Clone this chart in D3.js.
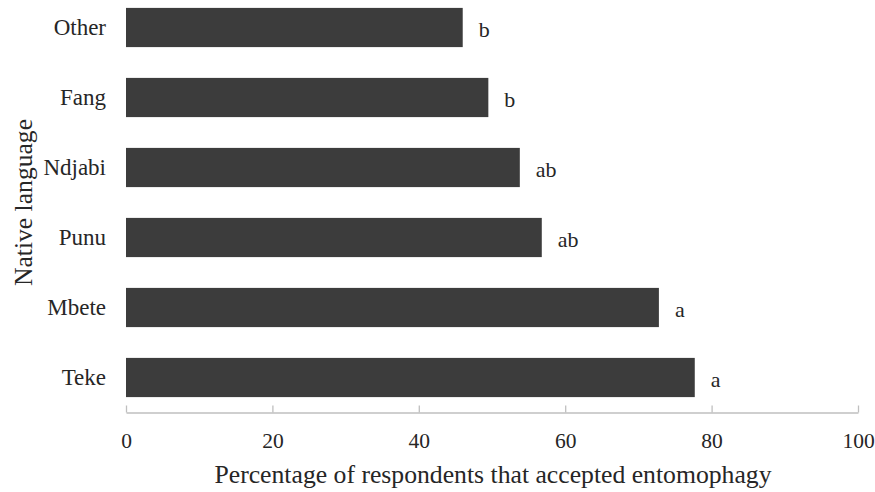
<!DOCTYPE html>
<html>
<head>
<meta charset="utf-8">
<script src="https://cdn.jsdelivr.net/npm/d3@7"></script>
<style>
  html, body { margin: 0; padding: 0; background: #fff; }
  svg { display: block; }
</style>
</head>
<body>
<svg id="chart" width="875" height="492"></svg>
<script>
// Acceptance of entomophagy by native language
const languages = ["Other", "Fang", "Ndjabi", "Punu", "Mbete", "Teke"];
const acceptance = [46.0, 49.5, 53.8, 56.8, 72.8, 77.7];
const groups = ["b", "b", "ab", "ab", "a", "a"];
const xTicks = [0, 20, 40, 60, 80, 100];

const rows = languages.map((name, i) => ({ name, value: acceptance[i], group: groups[i] }));

const SERIF = "'Liberation Serif', 'Times New Roman', serif";
const INK = "#262626";

const svg = d3.select("#chart");
const plotLeft = 126, plotRight = 858, plotTop = -7.5, plotBottom = 412.5, axisY = 412.5;

const x = d3.scaleLinear().domain([0, 100]).range([plotLeft, plotRight]);
const y = d3.scaleBand().domain(languages).range([plotTop, plotBottom]).paddingInner(0.44).paddingOuter(0.22);

// bars
svg.append("g").selectAll("rect")
  .data(rows)
  .join("rect")
  .attr("x", x(0))
  .attr("y", d => y(d.name))
  .attr("width", d => x(d.value) - x(0))
  .attr("height", y.bandwidth())
  .attr("fill", "#3c3c3c");

// significance letters
svg.append("g").selectAll("text")
  .data(rows)
  .join("text")
  .attr("x", d => x(d.value) + 16)
  .attr("y", d => y(d.name) + y.bandwidth() / 2 + 9)
  .style("font-family", SERIF)
  .style("font-size", "22px")
  .style("fill", INK)
  .text(d => d.group);

// x axis with inward ticks
const xAxis = svg.append("g").attr("transform", `translate(0,${axisY})`)
  .call(d3.axisBottom(x).tickValues(xTicks).tickSizeInner(-7).tickSizeOuter(0).tickPadding(0));
xAxis.select(".domain").attr("stroke", "#bfbfbf").attr("stroke-width", 1.3);
xAxis.selectAll(".tick line").attr("stroke", "#bfbfbf").attr("stroke-width", 1.3);
xAxis.selectAll(".tick text")
  .attr("y", 0)
  .attr("dy", 35.5)
  .style("font-family", SERIF)
  .style("font-size", "21.5px")
  .style("fill", INK);

// y category labels
svg.append("g").selectAll("text")
  .data(rows)
  .join("text")
  .attr("x", 106)
  .attr("y", d => y(d.name) + y.bandwidth() / 2 + 7.5)
  .attr("text-anchor", "end")
  .style("font-family", SERIF)
  .style("font-size", "23px")
  .style("fill", INK)
  .text(d => d.name);

// axis titles
svg.append("text")
  .attr("x", 493)
  .attr("y", 483)
  .attr("text-anchor", "middle")
  .style("font-family", SERIF)
  .style("font-size", "25.7px")
  .style("fill", INK)
  .text("Percentage of respondents that accepted entomophagy");

svg.append("text")
  .attr("transform", `translate(32,${(plotTop + plotBottom) / 2}) rotate(-90)`)
  .attr("text-anchor", "middle")
  .style("font-family", SERIF)
  .style("font-size", "25.6px")
  .style("fill", INK)
  .text("Native language");
</script>
</body>
</html>
